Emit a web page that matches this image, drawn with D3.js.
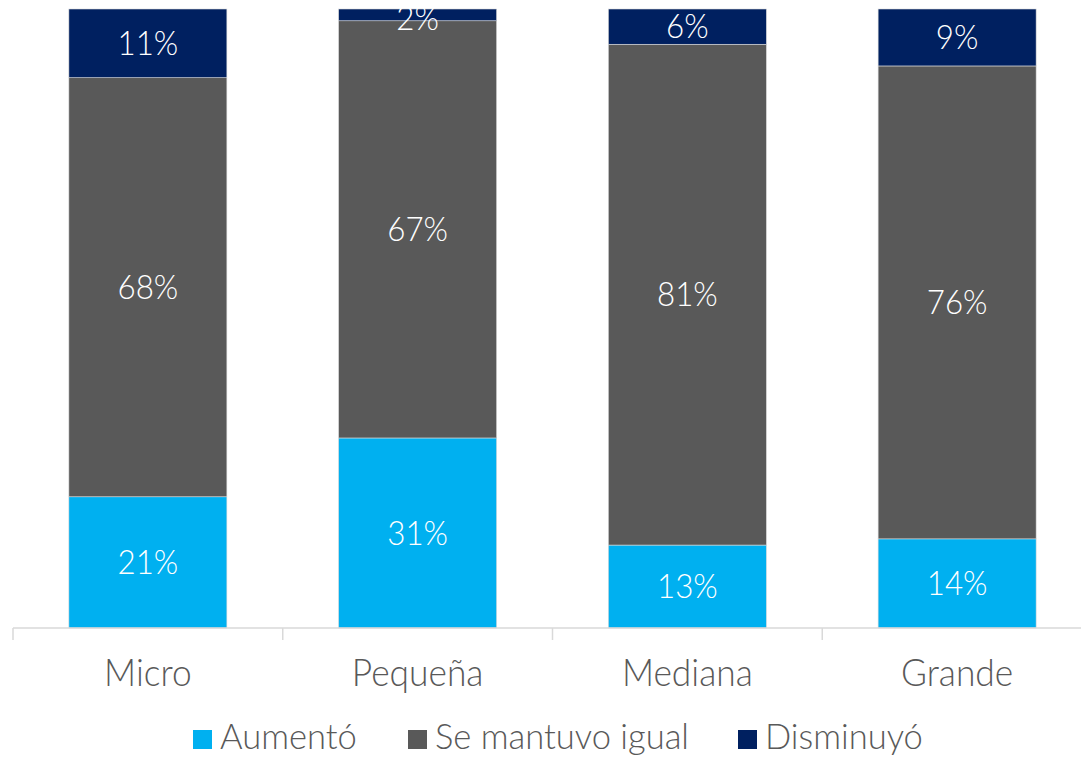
<!DOCTYPE html>
<html><head><meta charset="utf-8">
<script src="https://cdn.jsdelivr.net/npm/d3@7"></script>
<style>body{margin:0;background:#fff}svg{display:block}text{font-family:Lato,"Open Sans",sans-serif;font-weight:300}</style>
</head><body><svg id="c" width="1081" height="758"></svg>
<script>
const categories = ["Micro","Pequeña","Mediana","Grande"];
const seriesNames = ["Aumentó","Se mantuvo igual","Disminuyó"];
const aumento = [21.2, 30.7, 13.4, 14.4];
const mantuvo = [67.7, 67.4, 80.9, 76.4];
const disminuyo = [11.1, 1.9, 5.7, 9.2];
const colors = ["#00B0F0","#595959","#002060"];

const svg = d3.select("#c");
const x = d3.scaleBand().domain(categories).range([13, 1092]).paddingInner(0).paddingOuter(0);
const y = d3.scaleLinear().domain([0,100]).range([628, 9]);
const barW = 158;

const rows = categories.map((c,i)=>({cat:c, "Aumentó":aumento[i], "Se mantuvo igual":mantuvo[i], "Disminuyó":disminuyo[i]}));
const stacked = d3.stack().keys(seriesNames)(rows);

const g = svg.append("g");
stacked.forEach((s,si)=>{
  const gg = g.append("g");
  gg.selectAll("rect").data(s).join("rect")
    .attr("x", d=>x(d.data.cat)+x.bandwidth()/2-barW/2)
    .attr("width", barW)
    .attr("y", d=>y(d[1]))
    .attr("height", d=>y(d[0])-y(d[1]))
    .attr("fill", colors[si])
    .attr("stroke","#d9d9d9").attr("stroke-width",0.6);
  gg.selectAll("text").data(s).join("text")
    .attr("transform", d=>`translate(${x(d.data.cat)+x.bandwidth()/2},${Math.max(18,(y(d[0])+y(d[1]))/2)}) scale(0.95,1)`)
    .attr("dy","0.35em")
    .attr("text-anchor","middle")
    .attr("fill","#fff").attr("font-size",33)
    .text(d=>Math.round(d[1]-d[0])+"%");
});

// axis
const ax = svg.append("g").attr("transform","translate(0,628)");
ax.append("line").attr("x1",13).attr("x2",1081).attr("y1",0).attr("y2",0).attr("stroke","#d9d9d9").attr("stroke-width",1.5);
ax.selectAll("line.t").data(categories).join("line").attr("class","t")
  .attr("x1",d=>x(d)).attr("x2",d=>x(d)).attr("y1",0).attr("y2",12)
  .attr("stroke","#d9d9d9").attr("stroke-width",1.5);
ax.selectAll("text").data(categories).join("text")
  .attr("transform",d=>`translate(${x(d)+x.bandwidth()/2},58) scale(0.93,1)`)
  .attr("text-anchor","middle").attr("fill","#595959").attr("font-size",38)
  .text(d=>d);

// legend
const legX = [193, 408, 738];
const lg = svg.append("g");
seriesNames.forEach((n,i)=>{
  lg.append("rect").attr("x",legX[i]).attr("y",730).attr("width",19).attr("height",19).attr("fill",colors[i]);
  lg.append("text").attr("transform",`translate(${legX[i]+27},749) scale(0.96,1)`).attr("fill","#595959").attr("font-size",36).text(n);
});
</script></body></html>
